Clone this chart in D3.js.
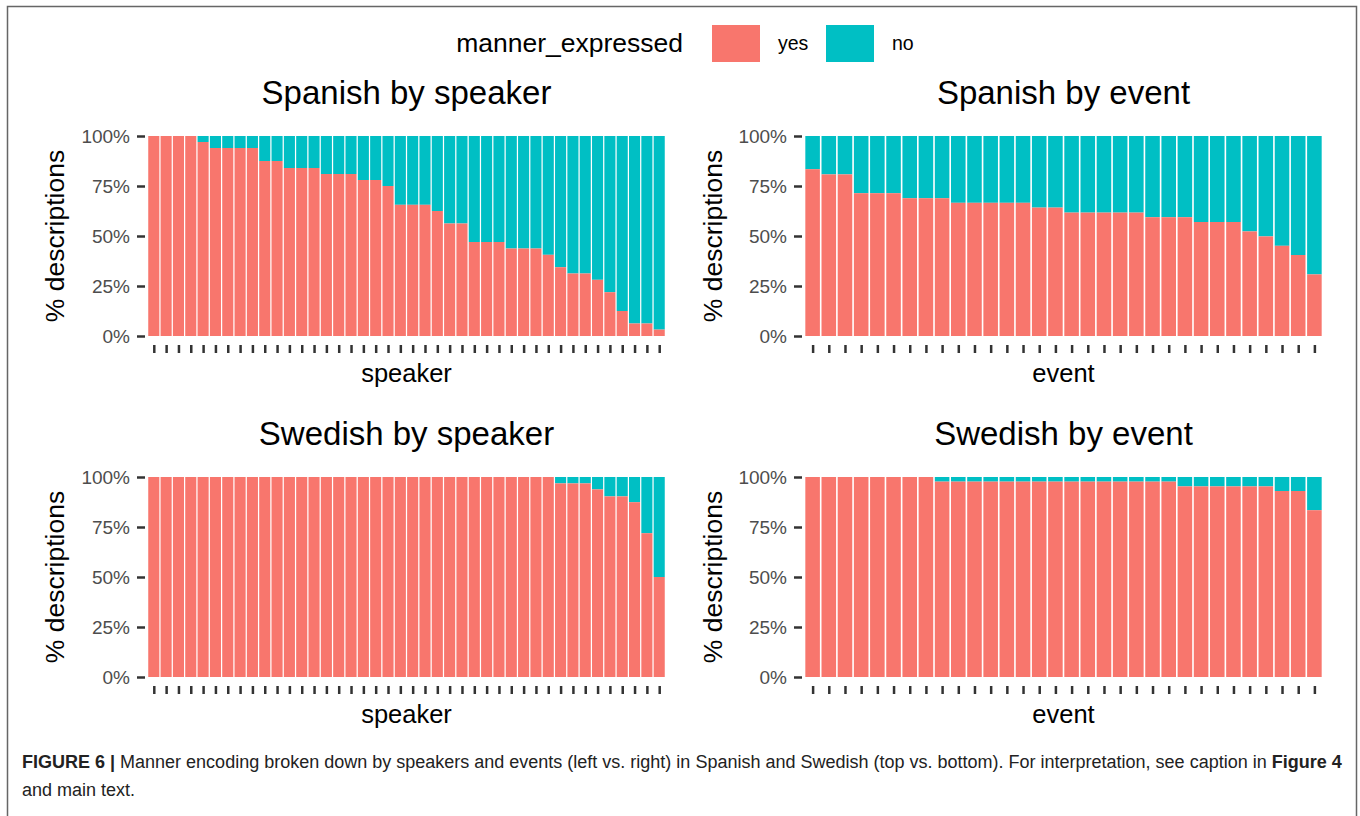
<!DOCTYPE html>
<html>
<head>
<meta charset="utf-8">
<script src="https://cdn.jsdelivr.net/npm/d3@7"></script>
<style>
  html, body { margin: 0; padding: 0; background: #fff; }
  svg { display: block; font-family: "Liberation Sans", Arial, sans-serif; }
</style>
</head>
<body>
<svg id="chart" width="1360" height="816"></svg>
<script>
// share of descriptions where manner was expressed (yes); "no" is the rest
const spanishSpeaker = [
  1, 1, 1, 1, 0.97, 0.94, 0.94, 0.94, 0.94, 0.875, 0.875,
  0.84, 0.84, 0.84, 0.81, 0.81, 0.81, 0.78, 0.78, 0.75,
  0.656, 0.656, 0.656, 0.625, 0.5625, 0.5625, 0.47, 0.47, 0.47,
  0.4375, 0.4375, 0.4375, 0.406, 0.344, 0.3125, 0.3125, 0.281,
  0.219, 0.125, 0.0625, 0.0625, 0.032
];
const spanishEvent = [
  0.834, 0.808, 0.808, 0.714, 0.714, 0.714, 0.689, 0.689, 0.689,
  0.666, 0.666, 0.666, 0.666, 0.666, 0.642, 0.642,
  0.617, 0.617, 0.617, 0.617, 0.617, 0.594, 0.594, 0.594,
  0.57, 0.57, 0.57, 0.523, 0.498, 0.451, 0.405, 0.308
];
const swedishSpeaker = [
  1, 1, 1, 1, 1, 1, 1, 1, 1, 1, 1, 1, 1, 1, 1, 1, 1, 1, 1, 1, 1,
  1, 1, 1, 1, 1, 1, 1, 1, 1, 1, 1, 1,
  0.968, 0.968, 0.968, 0.938, 0.903, 0.903, 0.874, 0.719, 0.5
];
const swedishEvent = [
  1, 1, 1, 1, 1, 1, 1, 1,
  0.977, 0.977, 0.977, 0.977, 0.977, 0.977, 0.977, 0.977,
  0.977, 0.977, 0.977, 0.977, 0.977, 0.977, 0.977,
  0.953, 0.953, 0.953, 0.953, 0.953, 0.953, 0.93, 0.93, 0.834
];

const yTicks = [0, 0.25, 0.5, 0.75, 1];
const legendLevels = ["yes", "no"];
const legendColors = ["#F8766D", "#00BFC4"];

const panels = [
  { title: "Spanish by speaker", xlab: "speaker", values: spanishSpeaker, col: 0, row: 0 },
  { title: "Spanish by event", xlab: "event", values: spanishEvent, col: 1, row: 0 },
  { title: "Swedish by speaker", xlab: "speaker", values: swedishSpeaker, col: 0, row: 1 },
  { title: "Swedish by event", xlab: "event", values: swedishEvent, col: 1, row: 1 },
];

const svg = d3.select("#chart");
const color = d3.scaleOrdinal().domain(legendLevels).range(legendColors);

// frame around the figure
svg.append("path")
  .attr("d", "M7.5,816 V6.5 H1356.5 V816")
  .attr("fill", "none")
  .attr("stroke", "#666")
  .attr("stroke-width", 1.5);

/* ---- legend ---- */
const legend = svg.append("g");
legend.append("text")
  .attr("x", 683).attr("y", 52)
  .attr("text-anchor", "end")
  .attr("font-size", 26.5)
  .attr("fill", "#000")
  .text("manner_expressed");
legendLevels.forEach((lvl, i) => {
  const x0 = 712 + i * 114;
  legend.append("rect")
    .attr("x", x0).attr("y", 25)
    .attr("width", 48).attr("height", 37)
    .attr("fill", color(lvl));
  legend.append("text")
    .attr("x", x0 + 66).attr("y", 50)
    .attr("font-size", 19.5)
    .attr("fill", "#000")
    .text(lvl);
});

/* ---- panels ---- */
const colX = [[148, 665], [805, 1322]];
const rowY = [[136, 336], [477, 677]];
const ylabX = [55, 713];

panels.forEach((p) => {
  const [x0, x1] = colX[p.col];
  const [y0, y1] = rowY[p.row];
  const g = svg.append("g");

  const x = d3.scaleBand()
    .domain(d3.range(p.values.length))
    .range([x0, x1])
    .paddingInner(0.1)
    .paddingOuter(0.02);
  const y = d3.scaleLinear().domain([0, 1]).range([y1, y0]);

  // "no" part on top
  g.append("g").selectAll("rect")
    .data(p.values)
    .join("rect")
    .attr("x", (d, i) => x(i))
    .attr("y", y(1))
    .attr("width", x.bandwidth())
    .attr("height", (d) => y(d) - y(1))
    .attr("fill", color("no"));

  // "yes" part at bottom
  g.append("g").selectAll("rect")
    .data(p.values)
    .join("rect")
    .attr("x", (d, i) => x(i))
    .attr("y", (d) => y(d))
    .attr("width", x.bandwidth())
    .attr("height", (d) => y(0) - y(d))
    .attr("fill", color("yes"));

  // y axis
  const yAxis = g.append("g")
    .attr("transform", `translate(${x0 - 3},0)`)
    .call(d3.axisLeft(y).tickValues(yTicks).tickFormat(d3.format(".0%")).tickSize(8).tickPadding(7));
  yAxis.select(".domain").remove();
  yAxis.selectAll(".tick line").attr("stroke", "#333").attr("stroke-width", 2.5);
  yAxis.selectAll(".tick text")
    .attr("font-size", 19)
    .attr("font-family", "Liberation Sans, Arial, sans-serif")
    .attr("fill", "#4d4d4d");

  // x axis (ticks only, no labels)
  const xAxis = g.append("g")
    .attr("transform", `translate(0,${y1 + 9})`)
    .call(d3.axisBottom(d3.scalePoint().domain(d3.range(p.values.length))
      .range([x(0) + x.bandwidth() / 2, x(p.values.length - 1) + x.bandwidth() / 2]))
      .tickFormat("").tickSize(8));
  xAxis.select(".domain").remove();
  xAxis.selectAll(".tick line").attr("stroke", "#333").attr("stroke-width", 2.5);

  // titles
  g.append("text")
    .attr("x", (x0 + x1) / 2).attr("y", y0 - 32)
    .attr("text-anchor", "middle")
    .attr("font-size", 33)
    .text(p.title);

  g.append("text")
    .attr("x", (x0 + x1) / 2).attr("y", y1 + 46)
    .attr("text-anchor", "middle")
    .attr("font-size", 25.5)
    .text(p.xlab);

  g.append("text")
    .attr("transform", `translate(${ylabX[p.col]},${(y0 + y1) / 2}) rotate(-90)`)
    .attr("text-anchor", "middle")
    .attr("dominant-baseline", "central")
    .attr("font-size", 26.5)
    .text("% descriptions");
});

/* ---- caption ---- */
const cap = svg.append("text")
  .attr("x", 22).attr("y", 768)
  .attr("font-size", 18)
  .attr("fill", "#222");
cap.append("tspan").attr("font-weight", "bold").text("FIGURE 6 | ");
cap.append("tspan").text("Manner encoding broken down by speakers and events (left vs. right) in Spanish and Swedish (top vs. bottom). For interpretation, see caption in ");
cap.append("tspan").attr("font-weight", "bold").text("Figure 4");

svg.append("text")
  .attr("x", 22).attr("y", 796)
  .attr("font-size", 18)
  .attr("fill", "#222")
  .text("and main text.");
</script>
</body>
</html>
